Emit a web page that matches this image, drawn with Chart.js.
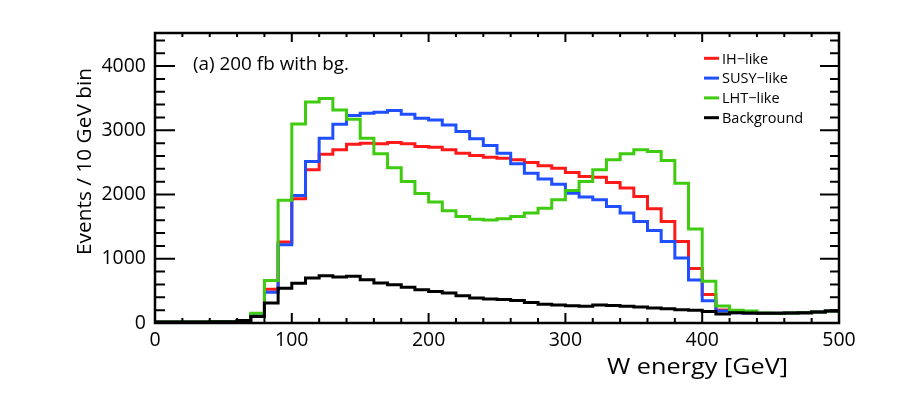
<!DOCTYPE html>
<html><head><meta charset="utf-8">
<script src="https://cdn.jsdelivr.net/npm/chart.js@4.4.1/dist/chart.umd.min.js"></script>
<style>html,body{margin:0;padding:0;background:#fff;} canvas{display:block;}</style>
</head><body>
<canvas id="c" width="913" height="395"></canvas>
<script>
// Bin low edges (GeV), 10 GeV bins, plus the upper edge 500
const binEdges = [0,10,20,30,40,50,60,70,80,90,100,110,120,130,140,150,160,170,180,190,200,210,220,230,240,250,260,270,280,290,300,310,320,330,340,350,360,370,380,390,400,410,420,430,440,450,460,470,480,490,500];

const seriesNames = ['IH\u2212like', 'SUSY\u2212like', 'LHT\u2212like', 'Background'];

const ihLike = [15,15,15,15,20,20,40,130,525,1260,1934,2385,2628,2696,2784,2800,2789,2810,2789,2748,2737,2696,2644,2608,2582,2566,2540,2499,2447,2411,2343,2281,2271,2188,2100,1970,1778,1581,1270,850,445,202,170,155,150,150,155,160,170,185];
const susyLike = [15,15,15,15,20,20,40,120,477,1218,1985,2514,2877,3095,3230,3266,3281,3307,3250,3188,3162,3084,2981,2867,2763,2644,2478,2333,2240,2162,2022,1960,1918,1815,1711,1581,1441,1270,1011,670,345,187,160,155,150,150,155,160,170,185];
const lhtLike = [15,15,15,15,20,20,40,150,660,1913,3100,3442,3494,3318,3173,2877,2634,2416,2203,2017,1882,1747,1659,1617,1602,1623,1659,1711,1788,1918,2063,2203,2385,2540,2634,2696,2670,2530,2177,1462,650,264,200,185,155,150,155,160,170,185];
const background = [15,15,15,15,20,20,40,100,310,540,620,700,736,715,726,674,622,596,555,518,492,467,425,389,373,365,350,321,290,280,270,262,280,272,262,250,235,220,207,197,180,140,160,155,150,150,155,160,170,185];

const xTickValues = [0,100,200,300,400,500];
const yTickValues = [0,1000,2000,3000,4000];

const xTitle = 'W energy [GeV]';
const yTitle = 'Events / 10 GeV bin';
const annotation = '(a) 200 fb with bg.';

const colors = ['#ff1a1a', '#1f4fff', '#3fcc10', '#000000'];
const FONT = '"Open Sans", sans-serif';

function toSteps(vals) {
  const pts = vals.map((v, i) => ({x: binEdges[i], y: v}));
  pts.push({x: binEdges[binEdges.length - 1], y: vals[vals.length - 1]});
  return pts;
}

const allSeries = [ihLike, susyLike, lhtLike, background];
// Chart.js draws dataset 0 on top, so list in reverse (background on top)
const datasets = [];
for (let i = allSeries.length - 1; i >= 0; i--) {
  datasets.push({
    label: seriesNames[i],
    data: toSteps(allSeries[i]),
    borderColor: colors[i],
    backgroundColor: colors[i],
    borderWidth: 3,
    pointRadius: 0,
    fill: false,
    stepped: true,
    tension: 0,
    borderJoinStyle: 'miter',
    borderCapStyle: 'butt'
  });
}

function scaledText(ctx, text, x, y, size, targetW, rot) {
  ctx.save();
  ctx.font = size + 'px ' + FONT;
  const w = ctx.measureText(text).width;
  const s = targetW / w;
  ctx.translate(x, y);
  if (rot) ctx.rotate(rot);
  ctx.scale(s, 1);
  ctx.textAlign = 'left';
  ctx.textBaseline = 'alphabetic';
  ctx.fillStyle = '#000';
  ctx.fillText(text, 0, 0);
  ctx.restore();
}

const framePlugin = {
  id: 'framePlugin',
  afterDraw(chart) {
    const ctx = chart.ctx;
    const a = chart.chartArea;
    const xs = chart.scales.x, ys = chart.scales.y;
    ctx.save();
    ctx.strokeStyle = '#000';
    ctx.lineWidth = 2;
    ctx.beginPath();
    for (let v = 0; v <= 500; v += 20) {
      const px = xs.getPixelForValue(v);
      const major = v % 100 === 0;
      ctx.moveTo(px, a.bottom); ctx.lineTo(px, a.bottom - (major ? 10 : 5));
      ctx.moveTo(px, a.top); ctx.lineTo(px, a.top + (major ? 9 : 4));
    }
    for (let v = 0; v <= 4400; v += 200) {
      const py = ys.getPixelForValue(v);
      const major = v % 1000 === 0;
      ctx.moveTo(a.left, py); ctx.lineTo(a.left + (major ? 20 : 10), py);
      ctx.moveTo(a.right, py); ctx.lineTo(a.right - (major ? 19 : 9), py);
    }
    ctx.stroke();
    ctx.lineWidth = 2.5;
    ctx.strokeRect(a.left, a.top, a.right - a.left, a.bottom - a.top);

    // legend
    [0, 1, 2, 3].forEach((k, i) => {
      const y = 58.3 + 19.8 * i;
      ctx.strokeStyle = colors[k];
      ctx.lineWidth = 3;
      ctx.beginPath();
      ctx.moveTo(704, y); ctx.lineTo(719, y);
      ctx.stroke();
      ctx.fillStyle = '#000';
      ctx.font = '14.5px ' + FONT;
      ctx.textAlign = 'left';
      ctx.textBaseline = 'alphabetic';
      ctx.fillText(seriesNames[k], 722, y + 5.2);
    });
    ctx.restore();

    scaledText(ctx, annotation, 193, 70, 18.7, 156, 0);
    scaledText(ctx, xTitle, 607, 373.5, 21, 181, 0);
    scaledText(ctx, yTitle, 91, 255, 20.5, 187, -Math.PI / 2);
  }
};

new Chart(document.getElementById('c'), {
  type: 'line',
  data: { datasets },
  options: {
    responsive: false,
    animation: false,
    devicePixelRatio: 1,
    layout: { padding: { top: 33, right: 74, left: 0, bottom: 0 } },
    plugins: { legend: { display: false }, tooltip: { enabled: false } },
    scales: {
      x: {
        type: 'linear', min: 0, max: 500,
        afterFit(s) { s.height = 72; },
        afterBuildTicks(s) { s.ticks = xTickValues.map(v => ({ value: v })); },
        grid: { display: false, drawTicks: false },
        border: { display: false },
        ticks: { padding: 6, color: '#000', font: { family: FONT, size: 19.5 }, maxRotation: 0, autoSkip: false, callback: v => String(v) }
      },
      y: {
        type: 'linear', min: 0, max: 4515,
        afterFit(s) { s.width = 155; },
        afterBuildTicks(s) { s.ticks = yTickValues.map(v => ({ value: v })); },
        grid: { display: false, drawTicks: false },
        border: { display: false },
        ticks: { padding: 9, color: '#000', font: { family: FONT, size: 19.5 }, autoSkip: false, callback: v => String(v) }
      }
    }
  },
  plugins: [framePlugin]
});
</script>
</body></html>
